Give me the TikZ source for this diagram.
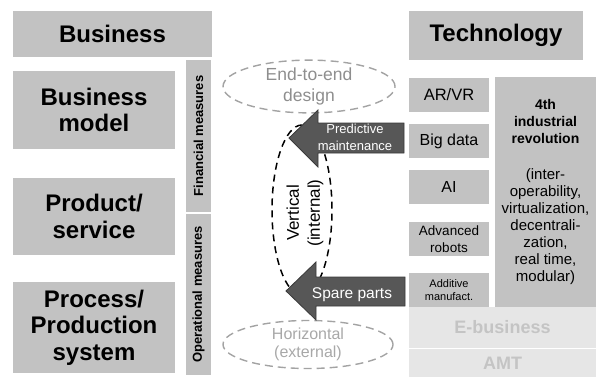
\documentclass[tikz,border=0pt]{standalone}
\usepackage{fontspec}
\setmainfont{Liberation Sans}
\usetikzlibrary{shapes.geometric}
\definecolor{boxgray}{HTML}{C2C2C2}
\definecolor{palegray}{HTML}{E6E6E6}
\definecolor{paletext}{HTML}{C4C4C4}
\definecolor{arrowfill}{HTML}{575757}
\definecolor{arrowline}{HTML}{3A3A3A}
\definecolor{ringgray}{HTML}{A3A3A3}
\definecolor{ringtext}{HTML}{8E8E8E}
\definecolor{ringtextlight}{HTML}{A8A8A8}
\begin{document}
\begin{tikzpicture}[x=1pt,y=-1pt,
  box/.style={fill=boxgray, draw=none, inner sep=0pt, align=center, text=black},
  head/.style={box, font=\fontsize{24}{26.5}\selectfont\bfseries},
  bar/.style={box, rotate=90, minimum height=25pt, font=\fontsize{13}{15}\selectfont\bfseries},
  tech/.style={box, minimum width=80pt, minimum height=34pt},
  pale/.style={fill=palegray, inner sep=0pt, minimum width=187pt, text=paletext,
    font=\fontsize{18}{20}\selectfont\bfseries},
  ring/.style={ellipse, draw=ringgray, dash pattern=on 8pt off 5pt, line width=1.4pt, inner sep=0pt},
  loop/.style={ellipse, draw=black, dash pattern=on 7pt off 5pt, line width=1.5pt, inner sep=0pt},
  flow/.style={fill=arrowfill, draw=arrowline, line width=0.8pt, line join=miter},
  flowtext/.style={text=white, align=center, inner sep=0pt}
]
\useasboundingbox (0,0) rectangle (596,377);

% business column
\node[head, minimum width=199pt, minimum height=46pt] (biz) at (112.5,34) {Business};
\node[head, minimum width=162pt, minimum height=78pt] (bm) at (94,110) {Business\\model};
\node[head, minimum width=162pt, minimum height=77pt] (ps) at (94,216.5) {Product/\\service};
\node[head, minimum width=162pt, minimum height=91pt] (pp) at (94,327.5) {Process/\\Production\\system};

% measure bars
\node[bar, minimum width=152pt] (fin) at (198.5,136) {Financial measures};
\node[bar, minimum width=161pt] (op) at (198.5,294.5) {Operational measures};

% technology column
\node[head, minimum width=174pt, minimum height=49pt] (tech) at (496,35.5) {Technology};
\node[tech, font=\fontsize{16.5}{18}\selectfont] (arvr) at (449,95) {AR/VR};
\node[tech, font=\fontsize{16}{18}\selectfont] (big) at (449,141) {Big data};
\node[tech, font=\fontsize{16}{18}\selectfont] (ai) at (449,187) {AI};
\node[tech, font=\fontsize{13.5}{17}\selectfont] (rob) at (449,239) {Advanced\\robots};
\node[tech, font=\fontsize{11}{13}\selectfont] (add) at (449,290) {Additive\\manufact.};
\node[box, minimum width=101pt, minimum height=230pt, font=\fontsize{15}{17}\selectfont] (rev) at (545.5,192)
  {\fontsize{14}{17}\selectfont\bfseries 4th\\
   \fontsize{14}{17}\selectfont\bfseries industrial\\
   \fontsize{14}{17}\selectfont\bfseries revolution\\[19pt]
   (inter-\\operability,\\virtualization,\\decentrali-\\zation,\\real time,\\modular)};
\node[pale, minimum height=41pt] (ebiz) at (502.5,327.5) {E-business};
\node[pale, minimum height=28pt] (amt) at (502.5,363) {AMT};

% integration rings
\node[ring, minimum width=172pt, minimum height=47pt, text=ringtext, align=center,
  font=\fontsize{17.5}{21}\selectfont] (e2e) at (309,86.5) {End-to-end\\design};
\node[ring, minimum width=170pt, minimum height=48pt, text=ringtextlight, align=center,
  font=\fontsize{16}{18}\selectfont] (hor) at (308,344.5) {Horizontal\\(external)};
\node[loop, rotate=90, minimum width=170pt, minimum height=60pt] (vert) at (302,210) {};
\node[rotate=90, align=center, inner sep=0pt, font=\fontsize{17}{21}\selectfont] (vtext) at (305,213)
  {Vertical\\(internal)};

% use-case arrows
\draw[flow] (289,138) -- (318,110) -- (318,123) -- (404,123) -- (404,153)
  -- (318,153) -- (318,167) -- cycle;
\node[flowtext, font=\fontsize{13}{17}\selectfont] (pm) at (355,137) {Predictive\\maintenance};
\draw[flow] (286,291) -- (316,262) -- (316,277) -- (405,277) -- (405,306)
  -- (316,306) -- (316,320) -- cycle;
\node[flowtext, anchor=base, font=\fontsize{15.5}{18}\selectfont] (sp) at (352,298) {Spare parts};
\end{tikzpicture}
\end{document}
